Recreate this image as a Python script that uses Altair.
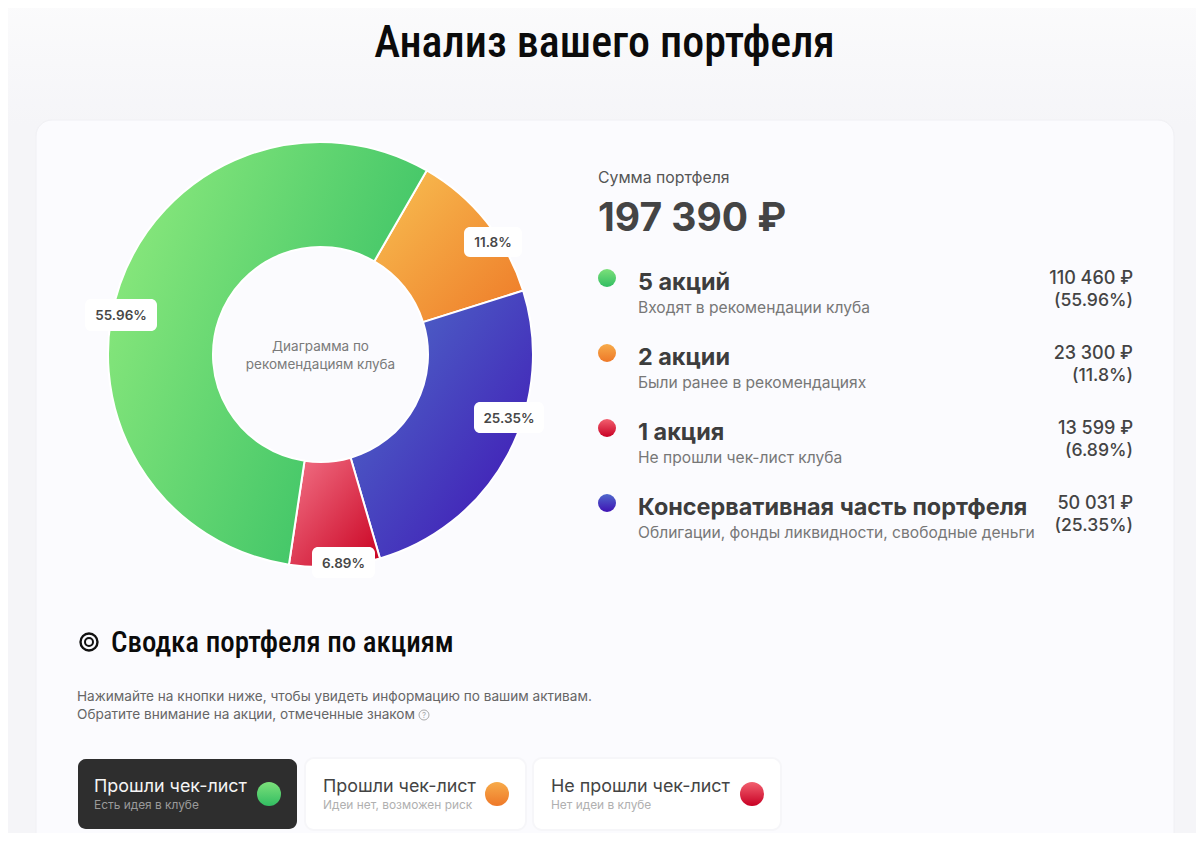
import math
import altair as alt
import pandas as pd

M = 8  # page margin: reference pixels minus this give chart pixels
W, H = 1188, 825
SANS = "Inter"
COND = "Roboto Condensed, DejaVu Sans Condensed, Noto Sans Condensed, Open Sans Condensed, Arial Narrow, Liberation Sans Narrow, sans-serif"

TITLE = "Анализ вашего портфеля"
SECTION = "Сводка портфеля по акциям"
TOTAL_LABEL = "Сумма портфеля"
TOTAL_VALUE = "197 390 ₽"
CENTER_LINES = ["Диаграмма по", "рекомендациям клуба"]
INTRO_LINES = ["Нажимайте на кнопки ниже, чтобы увидеть информацию по вашим активам.",
               "Обратите внимание на акции, отмеченные знаком"]

# slices in clockwise order starting at 30 degrees
slice_names = ["2 акции", "Консервативная часть портфеля", "1 акция", "5 акций"]
slice_values = [23300, 50031, 13599, 110460]
slice_labels = ["11.8%", "25.35%", "6.89%", "55.96%"]

legend_titles = ["5 акций", "2 акции", "1 акция", "Консервативная часть портфеля"]
legend_subs = ["Входят в рекомендации клуба", "Были ранее в рекомендациях",
               "Не прошли чек-лист клуба", "Облигации, фонды ликвидности, свободные деньги"]
legend_amounts = ["110 460 ₽", "23 300 ₽", "13 599 ₽", "50 031 ₽"]
legend_percents = ["(55.96%)", "(11.8%)", "(6.89%)", "(25.35%)"]

button_titles = ["Прошли чек-лист", "Прошли чек-лист", "Не прошли чек-лист"]
button_subs = ["Есть идея в клубе", "Идеи нет, возможен риск", "Нет идеи в клубе"]


def grad(c0, c1, x1=0, y1=0, x2=1, y2=1):
    return {"gradient": "linear", "x1": x1, "y1": y1, "x2": x2, "y2": y2,
            "stops": [{"offset": 0, "color": c0}, {"offset": 1, "color": c1}]}


G_GREEN = grad("#8ae87c", "#2fbd63", 0, 0.25, 1, 0.75)
G_ORANGE = grad("#f8c052", "#ee7a28")
G_BLUE = grad("#4f72c9", "#3f10b4")
G_RED = grad("#f27488", "#c90020")
DOT_GREEN = grad("#7ce07a", "#32bd62", 0, 0, 0, 1)
DOT_ORANGE = grad("#f7ab4a", "#ee7828", 0, 0, 0, 1)
DOT_RED = grad("#f2606f", "#c80024", 0, 0, 0, 1)
DOT_BLUE = grad("#4f68cc", "#3f12b4", 0, 0, 0, 1)


def text(s, x, y, size, color="#444444", weight=400, align="left", font=SANS):
    return alt.Chart(pd.DataFrame({"t": [s]})).mark_text(
        font=font, fontSize=size, fontWeight=weight, color=color, align=align, baseline="alphabetic"
    ).encode(text="t:N", x=alt.value(x - M), y=alt.value(y - M))


def box(x0, y0, x1, y1, fill, radius=0, stroke=None, opacity=1.0):
    kw = {"stroke": stroke, "strokeWidth": 1} if stroke else {}
    return alt.Chart(pd.DataFrame({"a": [0]})).mark_rect(
        fill=fill, cornerRadius=radius, opacity=opacity, **kw
    ).encode(x=alt.value(x0 - M), x2=alt.value(x1 - M), y=alt.value(y0 - M), y2=alt.value(y1 - M))


def dot(x, y, d, fill=None, stroke=None, sw=1.5):
    if fill:
        return alt.Chart(pd.DataFrame({"a": [0]})).mark_circle(size=d * d, fill=fill, opacity=1).encode(
            x=alt.value(x - M), y=alt.value(y - M))
    return alt.Chart(pd.DataFrame({"a": [0]})).mark_point(
        shape="circle", size=d * d, fillOpacity=0, stroke=stroke, strokeWidth=sw, opacity=1).encode(
        x=alt.value(x - M), y=alt.value(y - M))


layers = []

# background and card
layers.append(box(0, 0, 1204, 125, grad("#fbfbfc", "#f5f5f8", 0, 0, 0, 1)))
layers.append(box(36, 120, 1174, 900, "#fbfbfe", 16, stroke="#f0f0f4"))
layers.append(text(TITLE, 604.5, 57, 44, "#0b0b0b", 500, "center", COND))

# donut
total = sum(slice_values)
a0 = math.radians(30)
theta_scale = alt.Scale(domain=[0, total], range=[a0, a0 + 2 * math.pi])
starts = [sum(slice_values[:i]) for i in range(len(slice_values))]
ends = [sum(slice_values[:i + 1]) for i in range(len(slice_values))]
for i, g in enumerate([G_ORANGE, G_BLUE, G_RED, G_GREEN]):
    df = pd.DataFrame({"name": [slice_names[i]], "start": [starts[i]], "end": [ends[i]]})
    layers.append(alt.Chart(df).mark_arc(
        fill=g, stroke="#ffffff", strokeWidth=2, innerRadius=107.5, outerRadius=212.5
    ).encode(
        theta=alt.Theta("start:Q", scale=theta_scale),
        theta2="end:Q",
        x=alt.value(320.5 - M), y=alt.value(354.5 - M),
    ))

# donut labels
label_boxes = [(464, 227, 522, 257), (474, 402, 544, 433), (312, 547, 375, 578), (85, 299, 157, 331)]
for lab, (x0, y0, x1, y1) in zip(slice_labels, label_boxes):
    layers.append(box(x0, y0, x1, y1, "#ffffff", 6))
    layers.append(text(lab, (x0 + x1) / 2, (y0 + y1) / 2 + 5, 13.5, "#474747", 600, "center"))

for line, yy in zip(CENTER_LINES, [351, 369]):
    layers.append(text(line, 320.5, yy, 13.5, "#7a7a7a", 400, "center"))

# summary
layers.append(text(TOTAL_LABEL, 598, 183, 15.8, "#555555", 400))
layers.append(text(TOTAL_VALUE, 598, 231, 39, "#444444", 700))

# legend rows
row_dots = [DOT_GREEN, DOT_ORANGE, DOT_RED, DOT_BLUE]
for r in range(4):
    dy = 75 * r
    layers.append(dot(607, 278 + dy, 18, fill=row_dots[r]))
    layers.append(text(legend_titles[r], 638, 290 + dy, 23.4, "#3d3d3d", 700))
    layers.append(text(legend_subs[r], 638, 313 + dy, 15.6, "#777777", 400))
    layers.append(text(legend_amounts[r], 1133, 284 + dy, 18, "#444444", 500, "right"))
    layers.append(text(legend_percents[r], 1133, 306 + dy, 17.6, "#444444", 500, "right"))

# section heading
layers.append(dot(89, 642, 17, stroke="#111111", sw=2.4))
layers.append(dot(89, 642, 8, stroke="#111111", sw=2))
layers.append(text(SECTION, 111, 652, 28.9, "#0b0b0b", 500, "left", COND))
layers.append(text(INTRO_LINES[0], 77, 701, 13.6, "#666666"))
layers.append(text(INTRO_LINES[1], 77, 719, 13.6, "#666666"))
layers.append(dot(424, 715, 10, stroke="#aaaaaa", sw=1))
layers.append(text("?", 424, 718, 8, "#aaaaaa", 400, "center"))

# buttons
btns = [(78, 297, "#2e2e2e", "#f5f5f5", "#9a9a9a", DOT_GREEN, 269),
        (306, 525, "#ffffff", "#444444", "#b0b0b0", DOT_ORANGE, 497),
        (534, 780, "#ffffff", "#444444", "#b0b0b0", DOT_RED, 752)]
for i, (x0, x1, fill, c1, c2, g, cx) in enumerate(btns):
    if fill == "#ffffff":
        layers.append(box(x0 - 2, 757, x1 + 2, 831, "#f6f6f9", 10))
    layers.append(box(x0, 759, x1, 829, fill, 8))
    tx = x0 + (16 if i == 0 else 17)
    layers.append(text(button_titles[i], tx, 792, 17.9, c1, 400))
    layers.append(text(button_subs[i], tx, 809, 11.9, c2, 400))
    layers.append(dot(cx, 794, 24, fill=g))

chart = alt.layer(*layers).properties(
    width=W, height=H, padding=0,
    background="#f5f5f8",
    autosize=alt.AutoSizeParams(type="none", contains="padding"),
).configure_view(stroke=None)

chart.save("out.html", embed_options={"renderer": "svg", "actions": False})
